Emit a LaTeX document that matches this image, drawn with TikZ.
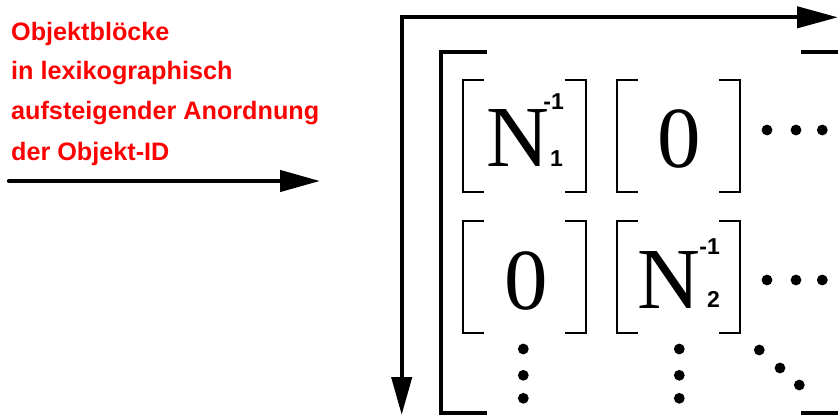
\documentclass[tikz,border=0pt]{standalone}
\usepackage{fontspec}
\setmainfont{Liberation Serif}
\newfontfamily\labelsans{Liberation Sans}
\usetikzlibrary{arrows.meta,calc}

\begin{document}
\begin{tikzpicture}[x=1pt,y=-1pt,
  thick arrow/.style={line width=4.3pt, line join=miter},
  bigbracket/.style={line width=4.3pt, line join=miter},
  smallbracket/.style={line width=2.2pt, line join=miter},
  block/.style={inner sep=0pt, outer sep=0pt, minimum width=123pt, minimum height=112.3pt},
  entry/.style={inner sep=0pt, font=\fontsize{87}{87}\selectfont},
  index/.style={inner sep=0pt, font=\labelsans\bfseries\fontsize{23}{23}\selectfont},
  caption/.style={inner sep=0pt, anchor=base west, text=red,
    font=\labelsans\bfseries\fontsize{25.2}{25.2}\selectfont},
  dot/.style={circle, fill, inner sep=0pt, minimum size=10.8pt}
]
\useasboundingbox (0,0) rectangle (838,415);

% caption on the left
\node[caption] (l1) at (11,40.7) {Objektblöcke};
\node[caption] (l2) at (11,79.3) {in lexikographisch};
\node[caption] (l3) at (11,119.3) {aufsteigender Anordnung};
\node[caption] (l4) at (11,160) {der Objekt-ID};

% left arrow
\coordinate (la) at (9,181);
\coordinate (lb) at (320,181);
\draw[thick arrow, line cap=round, -{Triangle[length=40pt,width=21pt]}] (la) -- (lb);

% axes: column direction and row direction
\coordinate (vend) at (401.7,415);
\coordinate (hend) at (838,17.3);
\draw[thick arrow, {Triangle[length=38pt,width=20pt]}-{Triangle[length=41pt,width=21pt]}] (vend) |- (hend);

% outer bracket of the block matrix
\coordinate (obl) at (441,52);
\coordinate (obb) at (441,413);
\draw[bigbracket] (487,52) -- (obl) -- (obb) -- (487,413);
\draw[bigbracket] (801,52) -- (845,52);
\draw[bigbracket] (801,413) -- (845,413);

% the blocks
\node[block] (b11) at (524.2,136.2) {};
\node[block] (b12) at (678.3,136.2) {};
\node[block] (b21) at (524.2,277) {};
\node[block] (b22) at (678.3,277) {};

\foreach \b in {b11,b12,b21,b22}{
  \draw[smallbracket] ($(\b.north west)+(21,0)$) -- (\b.north west) -- (\b.south west) -- ++(21,0);
  \draw[smallbracket] ($(\b.north east)+(-21,0)$) -- (\b.north east) -- (\b.south east) -- ++(-21,0);
}

% block entries
\node[entry, anchor=base west] (n1) at (486,166) {N};
\node[index, anchor=base east] (n1sup) at (564,109) {-1};
\node[index, anchor=base east] (n1sub) at (563,166) {1};

\node[entry, anchor=base] (z12) at (679,167) {0};
\node[entry, anchor=base] (z21) at (526.7,309) {0};

\node[entry, anchor=base west] (n2) at (637,308) {N};
\node[index, anchor=base east] (n2sup) at (720,254) {-1};
\node[index, anchor=base east] (n2sub) at (720,307) {2};

% continuation dots
\foreach \x/\n in {767/a,796/b,822.3/c}{
  \node[dot] (r1\n) at (\x,130) {};
  \node[dot] (r2\n) at (\x,280) {};
}
\foreach \y/\n in {349/a,375.3/b,398.3/c}{
  \node[dot] (c1\n) at (523.3,\y) {};
  \node[dot] (c2\n) at (679.3,\y) {};
}
\node[dot] (da) at (759.3,350) {};
\node[dot] (db) at (780,368) {};
\node[dot] (dc) at (799.3,385) {};
\end{tikzpicture}
\end{document}
